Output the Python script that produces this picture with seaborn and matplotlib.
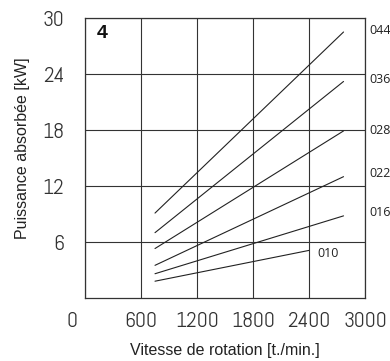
import matplotlib
matplotlib.use("Agg")
import matplotlib.pyplot as plt
import matplotlib.transforms as mtransforms
import seaborn as sns
import pandas as pd

# Data
series = ["044", "036", "028", "022", "016", "010"]
x_start = [750, 750, 750, 750, 750, 750]
x_end = [2770, 2770, 2770, 2770, 2770, 2400]
y_start = [9.1, 7.0, 5.3, 3.5, 2.6, 1.8]
y_end = [28.5, 23.2, 17.9, 13.0, 8.8, 5.1]
label_x = [3043, 3043, 3043, 3043, 3043, 2486]
label_y = [28.7, 23.4, 18.0, 13.3, 9.2, 4.8]
x_ticks = [0, 600, 1200, 1800, 2400, 3000]
y_ticks = [6, 12, 18, 24, 30]

rows = []
for s, xs, xe, ys, ye in zip(series, x_start, x_end, y_start, y_end):
    rows.append({"serie": s, "x": xs, "y": ys})
    rows.append({"serie": s, "x": xe, "y": ye})
df = pd.DataFrame(rows)

sns.set_theme(style="white")
plt.rcParams["font.family"] = ["Liberation Sans", "DejaVu Sans"]

fig = plt.figure(figsize=(3.9, 3.61), dpi=100)
ax = fig.add_axes([85 / 390, 1 - 298 / 361, 280 / 390, 280 / 361])

sns.lineplot(data=df, x="x", y="y", units="serie", estimator=None,
             color="#222222", linewidth=0.8, ax=ax, legend=False)

ax.set_xlim(0, 3000)
ax.set_ylim(0, 30)
ax.set_xticks(x_ticks)
ax.set_yticks(y_ticks)
ax.grid(True, color="#333333", linewidth=0.8)
ax.set_axisbelow(True)
for sp in ax.spines.values():
    sp.set_color("#333333")
    sp.set_linewidth(0.9)

tick_font = dict(family=["Abel", "Roboto", "DejaVu Sans"], size=15.5)
ax.set_xticklabels([str(v) for v in x_ticks], fontdict=tick_font, color="#333333")
ax.set_yticklabels([str(v) for v in y_ticks], fontdict=tick_font, color="#333333")
ax.tick_params(axis="x", length=0, pad=10)
ax.tick_params(axis="y", length=0, pad=15)

# shift the "0" label slightly left as in the reference
lbl0 = ax.get_xticklabels()[0]
lbl0.set_transform(lbl0.get_transform() + mtransforms.ScaledTranslation(-13 / 100, 0, fig.dpi_scale_trans))

ax.set_xlabel("Vitesse de rotation [t./min.]", fontsize=11.5, color="#222222")
ax.set_ylabel("Puissance absorbée [kW]", fontsize=11.5, color="#222222")
ax.xaxis.set_label_coords(0.5, (298 - 343) / 280)
ax.yaxis.set_label_coords((30 - 85) / 280, (298 - 148) / 280)

for s, lx, ly in zip(series, label_x, label_y):
    ax.text(lx, ly, s, fontsize=9, color="#222222", va="center", ha="left",
            family=["Open Sans", "DejaVu Sans"], clip_on=False)

ax.text(187, 28.3, "4", fontsize=14, fontweight="bold", color="#111111",
        ha="center", va="center")

fig.savefig("out.png", dpi=100)
